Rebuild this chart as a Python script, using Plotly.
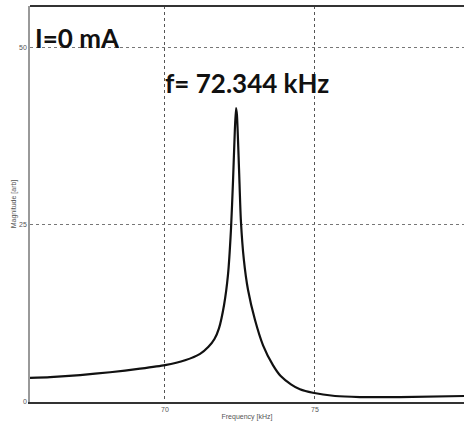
import plotly.graph_objects as go

freq_khz = [65.5, 66.17, 67.17, 68.17, 69.17, 70.0, 70.67, 71.17, 71.45, 71.65, 71.8,
            71.97, 72.1, 72.2, 72.27, 72.33, 72.37, 72.4, 72.47, 72.53, 72.63, 72.77,
            73.0, 73.27, 73.6, 73.85, 74.2, 74.5, 74.93, 75.67, 76.5, 77.83, 79.97]
magnitude = [3.4, 3.5, 3.8, 4.2, 4.7, 5.2, 5.9, 6.8, 7.8, 8.9, 10.4,
             13.7, 17.9, 24.3, 31.3, 38.4, 41.5, 40.5, 32.8, 25.7, 20.1, 15.8,
             11.6, 8.0, 5.2, 3.7, 2.5, 1.8, 1.3, 0.85, 0.7, 0.7, 0.85]

x_ticks = [70, 75]
y_ticks = [0, 25, 50]
current_label = "I=0 mA"
peak_label = "f= 72.344 kHz"

fig = go.Figure()
fig.add_trace(go.Scatter(x=freq_khz, y=magnitude, mode="lines",
                         line=dict(color="#111111", width=2.2, shape="spline", smoothing=0.6),
                         showlegend=False, hoverinfo="skip"))

fig.add_annotation(x=0.008, y=0.919, xref="paper", yref="paper", xanchor="left", yanchor="middle",
                   text="<b>" + current_label + "</b>", showarrow=False,
                   font=dict(family="Lato", size=26, color="#111111"))
fig.add_annotation(x=72.75, y=45.0, xref="x", yref="y", xanchor="center", yanchor="middle",
                   text="<b>" + peak_label + "</b>", showarrow=False,
                   font=dict(family="Lato", size=26, color="#111111"))

fig.update_layout(
    width=464, height=424,
    margin=dict(l=30, r=0, t=6, b=22),
    paper_bgcolor="white", plot_bgcolor="white",
    font=dict(family="Liberation Sans", size=7, color="#555555"),
    xaxis=dict(range=[65.5, 79.97], tickvals=x_ticks, ticktext=[str(v) for v in x_ticks],
               showgrid=True, gridcolor="#555555", griddash="dot", gridwidth=1,
               showline=True, linecolor="#333333", linewidth=1.5, mirror=False,
               zeroline=False, ticks="", ticklen=2,
               title=dict(text="Frequency [kHz]", font=dict(size=7), standoff=2)),
    yaxis=dict(range=[0, 55.9], tickvals=y_ticks, ticktext=[str(v) for v in y_ticks],
               showgrid=True, gridcolor="#777777", griddash="dot", gridwidth=1,
               showline=True, linecolor="#999999", linewidth=1.5,
               zeroline=False, ticks="",
               title=dict(text="Magnitude [arb]", font=dict(size=7), standoff=2)),
)
fig.add_shape(type="line", xref="paper", yref="paper", x0=0, x1=1, y0=1, y1=1,
              line=dict(color="#333333", width=2))

fig.write_html("out.html")
